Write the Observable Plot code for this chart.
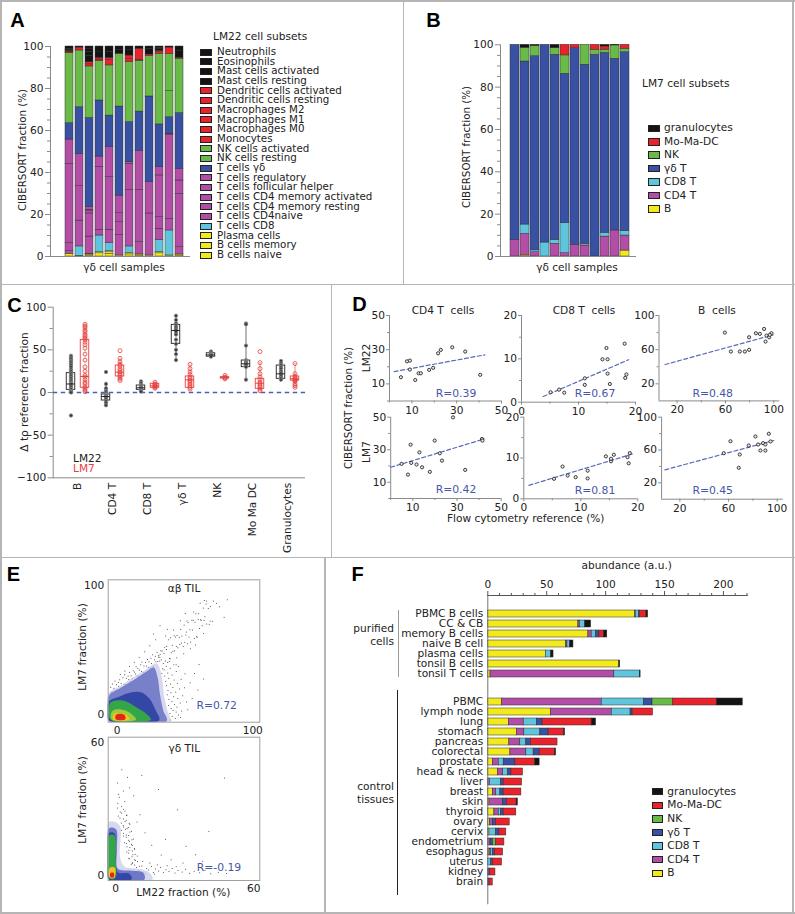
<!DOCTYPE html>
<html><head><meta charset="utf-8">
<script src="https://cdn.jsdelivr.net/npm/d3@7"></script>
<script src="https://cdn.jsdelivr.net/npm/@observablehq/plot@0.6"></script>
<style>
html,body{margin:0;padding:0;background:#fff;overflow:hidden}
#page{position:relative;width:795px;height:914px;font-family:"DejaVu Sans",sans-serif;color:#222;background:#fff}
#page svg{position:absolute;left:0;top:0;background:transparent;overflow:visible}
.t{position:absolute;white-space:pre;line-height:0.9;font-size:10.6px}
.ln{position:absolute}
.sw{position:absolute;box-sizing:border-box;border:1px solid #222}
</style></head><body><div id="page"></div>
<script>
// ================= DATA =================
// Panel A: LM22 fractions (%) for 12 γδ cell samples
const aSamples = ["1","2","3","4","5","6","7","8","9","10","11","12"];
const aBNaive    = [1.3,0.3,0.5,1.5,1.2,0.5,1,0.5,0.5,1.5,0.5,0.5];
const aBMemory   = [0,0,0.5,0.6,0.8,0,0.6,0.5,0,0.6,0,0.5];
const aPlasma    = [0,0,0.3,0,0.5,0,0,0,0,0,0,0];
const aCD8       = [0,4.5,0,7.9,3.8,0,3.2,0,0,5.8,11.9,0];
const aCD4Naive  = [1.2,12.3,8.2,0,6.4,9.8,26.9,5.8,20,5.3,5.5,3.4];
const aCD4MemRest= [3.8,16.4,11,2.7,25.1,6,12.4,24.9,14.9,5.5,40.2,25.4];
const aCD4MemAct = [37.8,15.4,1.2,30,14.3,4.3,0.8,18.5,0,19.9,0.3,6.4];
const aTfh       = [0,0,0.6,0,0,0,0,0,0,0,0,0];
const aTreg      = [11.6,0,1.2,4.9,0,8.4,0,0,0,3.9,0,5.5];
const aGD        = [7.8,22.2,42.5,26.7,15,42.4,19.1,18.8,40.8,20.4,7.9,26.6];
const aNKRest    = [0,0,0,0,0,0,0,0,0,0,12.4,0];
const aNKAct     = [33.3,27,24.5,18.7,23.9,25.1,28.5,24.2,19.3,33.6,17.8,25.9];
const aMono      = [0,0,0,0,0,0,0,0,0,0,0,0];
const aM0        = [0.4,0,0,0,0,0,0,0.5,0,0,0,0];
const aM1        = [0,0,0,0,0,0,0,0,0,0,0,0];
const aM2        = [0.4,0,1,0.8,2.5,0,1.6,0,0,0.8,0,0];
const aDCRest    = [0,1.4,1,0.8,1,0,1.6,5.2,0.7,0.7,3,0.5];
const aDCAct     = [0.4,0,0,0,0,0,0,0,0,0,0,0];
const aMastRest  = [0.5,0,3,3,3,2,2.5,0,2.5,0,0,3];
const aMastAct   = [0,0,2,0,0,0,0,0,0,0.7,0,0];
const aEos       = [0.3,0,1.5,0,0,0,0,0,0,0.6,0,0];
const aNeut      = [1.2,0.5,1,2.4,2.5,1.5,1.8,1.1,1.3,0.7,0.5,2.3];
const aTicks = [0,20,40,60,80,100];

// Panel B: LM7 fractions (%)
const bB    = [0,0.5,0,0,0,0,0,0,0,0,0,2.8];
const bCD4  = [7.8,10.2,2.0,0,6,1.6,5.5,5.2,0,9.4,12.3,7.1];
const bCD8  = [0,4.4,0.9,6.6,1.9,14.1,0,0.8,0,1.8,0,2.1];
const bGD   = [92.2,77,91.7,93.4,87.4,70.6,92.9,84.6,95.3,85,81.1,84.5];
const bNK   = [0,6.5,4.8,0,3.1,8.7,0,9.4,2.3,1.5,6.3,1.6];
const bMo   = [0,0,0,0,0,5.0,1.6,0,2.4,1.5,0,1.9];
const bGran = [0,1.4,0.6,0,1.6,0,0,0,0,0.8,0.3,0];

// Panel C: Δ to reference fraction
const cCategories = ["B","CD4 T","CD8 T","γδ T","NK","Mo Ma DC","Granulocytes"];
const cTicks = [-100,-50,0,50,100];
const lm22Pts = [
  [43,41,39,37,36,34,32,30,27,25,23,21,19,17,15,13,11,10,8,6,4,2,1,0,-27],
  [24,10,5,2,0,-2,-3,-4,-5,-6,-8,-10,-12,-15],
  [13,11,9,8,7,6,5,4,3,2,1],
  [90,85,81,79,77,75,73,71,68,62,57,50,45,38],
  [48,46,45,44,44,43,42],
  [81,80,55,38,37,36,35,34,33,32,30,15],
  [37,34,32,30,28,25,23,21,19,17,15]
];
const lm22Q1  = [3.1,-9.4,3.1,57,42,29.7,16];
const lm22Med = [10,-4.7,5.5,72.7,44,33.6,21.9];
const lm22Q3  = [22.7,-2.3,8.2,79.3,46,37.5,31.6];
const lm22Lo  = [0,-15,1,38,42,15,15];
const lm22Hi  = [43,12,13,90,48,81,37];
const lm7Pts = [
  [80,78,76,73,71,68,66,64,62,59,56,52,45,38,30,25,20,18,15,12,10,7,5,3,1],
  [49,40,36,33,31,28,26,24,22,20,18,16,14],
  [12,10,9,8,7,6,5],
  [33,28,24,21,18,16,14,12,10,8,6,4],
  [20,18,17,16],
  [48,35,28,22,18,15,12,10,8,6,4,2],
  [34,22,19,17,16,15,14,13,10,8,6]
];
const lm7Q1  = [5.5,18.8,5.5,5.5,16.5,4.3,14];
const lm7Med = [18.8,23.8,7.8,14.8,17.2,10.9,16];
const lm7Q3  = [61.7,31.6,10.2,18.8,18,16,18.8];
const lm7Lo  = [1,14,5,4,16,2,6];
const lm7Hi  = [80,40,12,33,20,35,34];

// Panel D: CIBERSORT vs flow cytometry (x = flow %, y = CIBERSORT %)
const dCD4LM22 = [[5.1,13.9],[7.8,23.2],[9.1,23.6],[9.1,18.4],[11.5,12.3],[13,16.2],[14,16.2],[17.7,18.2],[19.5,19.4],[21.7,27.9],[22.9,29.9],[28,31.4],[33.8,28.9],[40.5,15.3]];
const dCD4LM22Fit = [[2.1,17.2],[42.6,27]];
const dCD8LM22 = [[5.1,2.3],[6.6,2.9],[7.5,2.2],[11.1,5.5],[11.1,4.0],[14.2,9.9],[15.1,9.9],[14.9,12.5],[15.1,6.6],[15.5,4.2],[18.1,13.5],[18.2,5.6],[18.4,6.4]];
const dCD8LM22Fit = [[3.8,1.3],[18.8,9.8]];
const dBLM22 = [[59.5,80],[64.5,57.8],[71.9,57.8],[76.1,57.8],[79.6,59.8],[79.6,74.5],[85.2,79.2],[88.5,78.5],[92,84.3],[93.2,69.5],[94,76.5],[96.2,74.5],[98.1,79.2],[96.7,77.3]];
const dBLM22Fit = [[10,42.6],[99.5,77.3]];
const dCD4LM7 = [[4.9,21.3],[7.8,14.7],[9,33.1],[9.3,21.9],[11.7,20.9],[13,28.4],[14.2,19.2],[17.7,16.4],[19.9,35.6],[22.2,27.8],[23.2,23.3],[28.2,49.9],[33.7,17.6],[41.3,36.6],[41.5,35.6]];
const dCD4LM7Fit = [[0,19.2],[42.3,36.6]];
const dCD8LM7 = [[5.3,4.9],[6.8,7.9],[7.7,5.7],[9.1,5.3],[11.2,6.9],[11.2,5.0],[14.4,10.4],[15.3,9.2],[15.3,9.8],[15.8,10.8],[18.2,10.2],[18.4,8.7],[18.6,11.2]];
const dCD8LM7Fit = [[0.9,3.3],[19.1,11]];
const dBLM7 = [[56.1,56.1],[61.6,70.7],[68.4,38.3],[69.2,54.5],[76.6,65.5],[82.1,76.5],[84.3,66.7],[86.2,59.4],[88.4,68.3],[90.3,59.4],[90.3,66.7],[93.1,79.8],[94.5,70.4]];
const dBLM7Fit = [[7.7,35.8],[97.2,71.6]];

// Panel E: LM7 vs LM22 fraction (%) in TIL — scatter points and density levels
const eAbPoints = [
[-5.2,12.3],[-4.7,21.1],[-4.3,17.1],[-3.5,23.7],[-3.1,15.3],[-2.4,20.4],[-1.6,25.9],[-1.3,18.0],[-0.5,23.0],[0.1,17.2],[0.9,25.0],[1.2,21.8],[1.9,27.0],[2.7,20.4],[3.0,24.0],[3.8,19.4],[4.2,28.4],[5.1,23.5],[5.5,30.8],[6.3,23.3],[6.8,28.0],[7.2,22.2],[8.1,29.9],[8.6,27.1],[9.0,32.8],[9.9,25.4],[10.3,30.1],[11.0,27.6],[11.8,33.8],[12.1,25.5],[12.9,32.9],[13.6,31.4],[14.0,36.9],[14.8,29.9],[15.3,35.6],[16.1,29.5],[16.5,34.4],[17.4,38.5],[17.9,33.4],[18.3,40.6],[19.2,32.6],[19.8,37.5],[20.5,32.0],[21.0,40.2],[21.6,37.6],[22.4,42.6],[23.0,36.4],[23.5,40.9],[24.3,36.0],[24.9,43.5],[25.4,39.6],[26.2,46.3],[26.7,37.2],[27.5,42.5],[28.1,45.1],[28.6,40.9],[29.4,48.2],[30.0,41.0],[30.7,45.8],[31.5,44.3],[32.2,49.3],
[39.5,-4.2],[42.8,-3.1],[40.6,-1.5],[45.2,-0.4],[38.9,0.8],[43.5,1.9],[41.2,3.2],[47.6,2.7],[39.8,4.6],[44.1,5.8],[37.9,6.9],[42.3,7.7],[46.5,8.9],[40.4,10.1],[38.2,11.6],[44.7,12.4],[41.6,13.8],[36.9,15.2],[48.3,14.6],[39.7,16.9],[43.2,17.5],[37.5,18.8],[45.9,19.7],[41.1,20.9],[36.4,22.3],[39.3,23.6],[44.4,24.2],[35.8,25.7],[42.0,26.8],[38.1,28.1],[47.2,27.3],[35.1,29.9],[40.5,30.6],[37.3,32.2],[43.6,33.4],[34.6,34.7],[39.1,35.9],[36.2,37.4],[41.8,38.5],[34.0,39.6],[45.1,37.1],[38.4,41.2],[49.7,20.8],[51.2,9.6],[50.1,31.5],
[30.5,44.5],[31.4,41.4],[31.7,46.7],[32.5,42.5],[33.2,49.2],[33.5,35.5],[34.5,47.5],[35.1,52.1],[35.5,41.5],[36.4,50.4],[36.6,52.6],[37.3,40.3],[38.0,58.0],[39.1,43.1],[39.4,59.4],[39.9,47.9],[40.7,53.7],[41.1,49.1],[42.0,61.0],[42.4,49.4],[43.0,60.0],[43.9,52.9],[44.2,61.2],[44.8,51.8],[45.8,59.8],[46.2,54.2],[46.9,65.9],[47.4,55.4],[47.8,60.8],[48.7,52.7],[49.4,69.4],[49.9,55.9],[50.7,61.7],[51.0,64.0],[51.9,54.9],[52.3,71.3],[53.0,60.0],[53.7,65.7],[54.2,56.2],[55.1,73.1],[55.5,65.5],[56.1,73.1],[56.9,58.9],[57.4,71.4],[58.1,78.1],[58.7,60.7],[59.7,73.7],[60.1,78.1],[60.7,66.7],[61.5,73.5],[62.0,73.0],[62.7,68.7],[63.6,82.6],[64.1,73.1],[64.7,75.7],[65.6,85.6],[66.1,70.1],[67.2,82.2],[67.9,69.9],[68.7,83.7],
[33.0,32.0],[35.8,60.8],[38.6,43.6],[41.5,65.5],[44.0,44.0],[46.6,72.6],[49.1,47.1],[51.5,72.5],[54.0,51.0],[56.5,79.5],[58.9,59.9],[61.2,86.2],[63.8,62.8],[66.0,88.0],[68.5,72.5],[71.0,88.0],[73.2,86.2],[75.6,83.6],[37.0,66.0],[43.5,38.5],[50.2,78.2],[57.8,53.8],[64.3,88.3],[70.2,72.2],
[28.4,57.9],[24.1,53.2],[20.3,48.7],[16.2,44.1],[12.6,40.5],[9.1,37.3],[5.7,33.6],[2.3,30.9],
[53.8,24.6],[57.1,31.8],[60.4,38.7],[55.3,12.3],[59.6,18.9],[52.1,3.7],[46.8,-2.4],[63.8,27.5],[78.9,75.4],[81.2,88.9],[31.6,68.8],[26.9,62.4]
];
const eAbLevels = [
  [[-6,-5.5],[39,-5.5],[37,3],[34.5,15],[33,29],[29.5,39.5],[26,38.5],[22,35.5],[12,29],[3,22.5],[-6,16.5]],
  [[-6,-5],[36.5,-5],[34,3],[31.5,16],[30,28],[27,36.5],[22,33.5],[12.5,27],[2.7,20.7],[-6,14.5]],
  [[-6,-4.5],[31,-4.5],[28,4],[24,12],[18,17],[10,17],[2,14],[-6,10]],
  [[-5,-4],[25,-4],[21,1],[15,5],[8,9.5],[2,11],[-5,9]],
  [[-4,-4],[14,-4],[11,0],[6,3],[0,4],[-4,2]],
  [[-3,-4],[9,-4],[7,-0.5],[3,1],[-2,0.5]],
  [[-1,-3.8],[6,-3.8],[5.5,-0.5],[2,0.5],[-1,-0.5]]
];
const eGdPoints = [
[2.6,31.2],[0.8,30.4],[4.1,29.1],[2.0,28.6],[4.9,27.3],[1.2,26.8],[3.4,25.5],[4.6,24.9],[2.5,23.7],[6.2,23.1],[3.5,21.9],[5.0,21.2],[2.6,20.4],[6.2,19.6],[4.6,18.3],[3.5,17.8],[7.7,16.5],[5.7,15.9],[3.9,14.7],[6.9,14.1],[5.0,12.9],[8.2,12.2],[5.8,11.4],[4.9,10.6],[7.5,9.3],[9.4,8.8],[5.9,7.5],[8.6,6.9],[7.4,5.8],[6.8,5.1],
[1.0,32.5],[3.4,29.8],[2.6,28.2],[4.8,27.0],[1.9,25.9],[4.1,24.3],[5.9,23.4],[3.3,22.5],[5.5,21.6],[4.2,20.8],[6.9,19.9],[3.5,19.0],[5.7,18.0],[4.6,17.2],[7.1,16.1],[6.0,15.3],[4.7,14.4],[7.2,13.5],[6.2,12.6],[8.3,11.8],[7.3,11.0],[5.7,10.1],[8.5,9.6],[7.1,8.4],[5.8,7.8],[8.3,7.1],[9.5,6.3],[7.2,5.5],[8.3,4.7],[10.3,4.2],
[9.1,3.6],[10.2,2.1],[11.4,4.3],[12.3,1.6],[13.5,3.2],[14.2,2.5],[15.6,4.1],[16.4,1.3],[17.3,2.9],[18.7,2.0],[19.5,3.7],[20.8,1.5],[21.9,2.6],[23.2,1.9],[24.6,3.1],[25.8,1.1],[27.1,2.2],[28.9,1.6],[30.4,2.8],[32.2,1.0],[34.1,1.9],[36.5,1.2],[38.8,2.3],[41.3,0.8],[44.6,1.5],[48.2,0.9],[11.8,6.3],[14.9,5.6],[18.1,4.8],[22.4,4.4],[26.3,3.9],[9.8,1.2],[13.1,0.8],[16.9,0.7],
[1.6,35.2],[3.4,38.1],[0.9,41.7],[5.2,44.3],[2.7,47.6],[7.9,35.9],[10.6,27.4],[12.8,19.3],[15.7,13.6],[19.8,9.2],[24.1,7.1],[29.3,5.6],[6.1,39.5],[4.0,33.3],[9.3,24.1],[1.2,36.6],
[18.6,38.7],[26.9,29.6],[40.5,19.8],[47.3,43.9],[34.7,9.4],[53.9,2.8],[11.4,45.2],[21.7,16.3],[37.8,6.4],[30.6,13.2]
];
const eGdLevels = [
  [[-3,-2],[16,-2],[15,1],[10,3],[4,4],[2,8],[2,22],[0,24],[-3,24]],
  [[-3,-1.8],[12.5,-1.8],[12,1.2],[6,2.2],[1,3],[0.6,12],[0.4,20.5],[-1,21.5],[-3,21]],
  [[-3,-1.6],[7,-1.6],[6,0.8],[1,1.5],[0,10],[-0.5,19],[-3,19]],
  [[-2.8,-1.2],[-0.2,-1.2],[0,8],[-0.5,18],[-2.8,18]],
  [[-2.5,-1],[-0.5,-1],[-0.3,3.5],[-2.5,3.5]],
  [[-2.2,-0.8],[-0.8,-0.8],[-0.8,1.2],[-2.2,1.2]]
];

// Panel F: abundance (a.u.) per sample type
const fTissues = ["PBMC B cells","CC & CB","memory B cells","naive B cell","plasma cells","tonsil B cells","tonsil T cells",
  "PBMC","lymph node","lung","stomach","pancreas","colorectal","prostate","head & neck","liver","breast","skin","thyroid","ovary","cervix","endometrium","esophagus","uterus","kidney","brain"];
const fB    = [125.1,76.9,85.4,66.5,49.3,111.6,2.3, 12.2,53.6,17.8,24.8,18.3,19.2,4.2,8.5,0,4.2,1.4,5.6,1.7,1.4,0,1.4,0,0,0];
const fCD4  = [0.5,1.4,2.8,1.1,0,0,105.1, 84.5,51.6,12.7,6.2,9.3,13.5,5.1,4.5,1.7,2.9,11.6,3.7,2.5,0,2.3,1.4,0,0,0];
const fCD8  = [2.6,4.3,3.7,2.3,4.5,0,21.7, 35.8,16,11.3,13.6,5.1,6.2,4.2,4.2,9.6,3.6,0,2,0,5.6,0,1.4,2.8,0,0];
const fGD   = [0.8,0,2.8,0,0,0,0, 7.3,1.7,4.7,7,4,5.1,9.9,2.8,2.2,2.8,3.1,2.2,2.8,2.8,2.2,1.7,1.4,1.7,1.4];
const fNK   = [0,0,0,0,0,0,0, 17.4,0,0,0,0,0,0,0,0,0,0,0,0,0,2.5,0,0,0,0];
const fMo   = [5.7,0,3.9,0,0,0,0, 37.2,17.4,41.7,13.2,22.5,13.2,16.9,9.9,15.6,15,8.4,10.7,11.6,5.9,7.1,7.1,7.9,4.8,2.8];
const fGran = [1.4,5.1,2.8,2.8,2.0,0.8,0.6, 22.0,0,3.7,0.8,0,0.8,3.7,0,0,0,1.1,0,0,0,0,0,0,0,0];
const fTicks = [0,50,100,150,200];

// ================= STYLE =================
const cBlack="#141414", cRed="#e8232b", cGreen="#69ba48", cBlue="#3851a3", cCyan="#60c5dc", cPurple="#b24ea6", cYellow="#f2ea1d";
const axisGray="#8a8a8a", rBlue="#4657a7", lm7Red="#e6403f";
const page = document.getElementById("page");

function addText(s, x, y, o = {}) {
  const d = document.createElement("div");
  d.className = "t"; d.textContent = s;
  d.style.left = x + "px"; d.style.top = y + "px";
  if (o.size) d.style.fontSize = o.size + "px";
  if (o.color) d.style.color = o.color;
  if (o.weight) d.style.fontWeight = o.weight;
  if (o.family) d.style.fontFamily = o.family;
  const tx = o.anchor === "start" ? "0" : o.anchor === "end" ? "-100%" : "-50%";
  d.style.transform = `translate(${tx},-50%)` + (o.rot ? ` rotate(${o.rot}deg)` : "");
  page.appendChild(d);
}
function addLine(x, y, w, h, color) {
  const d = document.createElement("div");
  d.className = "ln";
  Object.assign(d.style, {left: x+"px", top: y+"px", width: w+"px", height: h+"px", background: color});
  page.appendChild(d);
}
function addSwatch(x, y, w, h, color) {
  const d = document.createElement("div");
  d.className = "sw";
  Object.assign(d.style, {left: x+"px", top: (y - h/2)+"px", width: w+"px", height: h+"px", background: color});
  page.appendChild(d);
}
function mk(L, R, T, B, opts) {
  const svg = Plot.plot({
    width: 795, height: 914,
    marginLeft: L, marginRight: 795 - R, marginTop: T, marginBottom: 914 - B,
    style: {background: "transparent", fontFamily: "DejaVu Sans", fontSize: "10.6px", color: "#222", overflow: "visible", position: "absolute", left: "0px", top: "0px"},
    ...opts
  });
  page.appendChild(svg);
}
const noText = () => "";
const boldFont = {size: 20, weight: "bold", family: "Liberation Sans, Arial, sans-serif", color: "#000"};

// ================= PANEL BORDERS =================
const bc = "#b5b5b5";
addLine(0,0,795,1.5,bc); addLine(0,0,1.5,914,bc); addLine(792,0,1.5,914,bc); addLine(0,912,795,1.5,bc);
addLine(0,283.5,795,1.5,bc); addLine(0,556.5,795,1.5,bc);
addLine(402.5,0,1.5,284,bc); addLine(330.5,284,1.5,273,bc); addLine(324,557,1.5,356,bc);

// ================= PANEL A =================
const aStack = [
 ["B cells naive", aBNaive, cYellow], ["B cells memory", aBMemory, cYellow], ["Plasma cells", aPlasma, cYellow],
 ["T cells CD8", aCD8, cCyan], ["T cells CD4naive", aCD4Naive, cPurple], ["T cells CD4 memory resting", aCD4MemRest, cPurple],
 ["T cells CD4 memory activated", aCD4MemAct, cPurple], ["T cells follicular helper", aTfh, cPurple], ["T cells regulatory", aTreg, cPurple],
 ["T cells γδ", aGD, cBlue], ["NK cells resting", aNKRest, cGreen], ["NK cells activated", aNKAct, cGreen],
 ["Monocytes", aMono, cRed], ["Macrophages M0", aM0, cRed], ["Macrophages M1", aM1, cRed], ["Macrophages M2", aM2, cRed],
 ["Dendritic cells resting", aDCRest, cRed], ["Dendritic cells activated", aDCAct, cRed],
 ["Mast cells resting", aMastRest, cBlack], ["Mast cells activated", aMastAct, cBlack], ["Eosinophils", aEos, cBlack], ["Neutrophils", aNeut, cBlack]
];
const aData = [];
aStack.forEach(([name, vals, color]) => vals.forEach((v, i) => { if (v > 0) aData.push({sample: aSamples[i], subset: name, value: v, color}); }));
const minor5 = d3.range(0, 101, 5).filter(d => d % 20);
mk(50, 190, 46, 256, {
  x: {type: "band", domain: aSamples, range: [61, 188], paddingInner: 0.16, paddingOuter: 0, axis: null},
  y: {domain: [0, 100]},
  marks: [
    Plot.barY(aData, {x: "sample", y: "value", fill: "color", stroke: "#2a2a2a", strokeWidth: 0.45}),
    Plot.ruleY([0], {stroke: axisGray}),
    Plot.frame({anchor: "left", stroke: axisGray}),
    Plot.axisY({ticks: aTicks, tickSize: 5, tickPadding: 2, label: null, stroke: axisGray}),
    Plot.axisY({ticks: minor5, tickSize: 3, tickFormat: noText, label: null, stroke: axisGray})
  ]
});
addText("A", 17.5, 20, boldFont);
addText("CIBERSORT fraction (%)", 23, 150, {rot: -90, size: 10.3});
addText("γδ cell samples", 124, 268, {size: 10.6});
addText("LM22 cell subsets", 213, 37, {anchor: "start"});
aStack.slice().reverse().forEach(([name, , color], i) => {
  const y = 52 + i * 9.67;
  addSwatch(200, y, 11.5, 7, color);
  addText(name, 217, y, {anchor: "start", size: 10.3});
});

// ================= PANEL B =================
const bStack = [["B", bB, cYellow], ["CD4 T", bCD4, cPurple], ["CD8 T", bCD8, cCyan], ["γδ T", bGD, cBlue], ["NK", bNK, cGreen], ["Mo-Ma-DC", bMo, cRed], ["granulocytes", bGran, cBlack]];
const bData = [];
bStack.forEach(([name, vals, color]) => vals.forEach((v, i) => { if (v > 0) bData.push({sample: aSamples[i], subset: name, value: v, color}); }));
mk(500, 636, 44.3, 256, {
  x: {type: "band", domain: aSamples, range: [506, 633], paddingInner: 0.12, paddingOuter: 0, axis: null},
  y: {domain: [0, 100]},
  marks: [
    Plot.barY(bData, {x: "sample", y: "value", fill: "color", stroke: "#2a2a2a", strokeWidth: 0.45}),
    Plot.ruleY([0], {stroke: axisGray}),
    Plot.frame({anchor: "left", stroke: axisGray}),
    Plot.axisY({ticks: aTicks, tickSize: 5, tickPadding: 2, label: null, stroke: axisGray}),
    Plot.axisY({ticks: minor5, tickSize: 3, tickFormat: noText, label: null, stroke: axisGray})
  ]
});
addText("B", 433.5, 20, boldFont);
addText("CIBERSORT fraction (%)", 467, 147, {rot: -90, size: 10.3});
addText("γδ cell samples", 577, 268, {size: 10.6});
addText("LM7 cell subsets", 642, 84, {anchor: "start"});
bStack.slice().reverse().forEach(([name, , color], i) => {
  const y = 128.3 + i * 13.45;
  addSwatch(648, y, 12, 7.5, color);
  addText(name, 664, y, {anchor: "start"});
});

// ================= PANEL C =================
const cGroups = [], cPoints = [];
cCategories.forEach((cat, i) => {
  cGroups.push({cat, method: "LM22", q1: lm22Q1[i], med: lm22Med[i], q3: lm22Q3[i], lo: lm22Lo[i], hi: lm22Hi[i]});
  cGroups.push({cat, method: "LM7", q1: lm7Q1[i], med: lm7Med[i], q3: lm7Q3[i], lo: lm7Lo[i], hi: lm7Hi[i]});
  lm22Pts[i].forEach(v => cPoints.push({cat, method: "LM22", v}));
  lm7Pts[i].forEach(v => cPoints.push({cat, method: "LM7", v}));
});
const cMarks = [
  Plot.ruleY([-100], {stroke: axisGray}),
  Plot.frame({anchor: "left", stroke: axisGray}),
  Plot.axisY({ticks: cTicks, tickSize: 5, tickPadding: 2, label: null, stroke: axisGray}),
  Plot.axisY({ticks: [-75,-25,25,75], tickSize: 3, tickFormat: noText, label: null, stroke: axisGray}),
  Plot.axisX({tickRotate: -90, tickSize: 0, tickPadding: 5, label: null}),
  Plot.ruleY([0], {stroke: "#4b5db4", strokeDasharray: "4.5,3.5", strokeWidth: 1.4})
];
[["LM22", -7, "#222", "#3a3a3a", "#888"], ["LM7", 7, lm7Red, "none", lm7Red]].forEach(([m, dx, col, dotFill, dotStroke]) => {
  const g = cGroups.filter(d => d.method === m), p = cPoints.filter(d => d.method === m);
  const insL = m === "LM22" ? 6.25 : 20.25, insR = 26.5 - insL;
  cMarks.push(
    Plot.ruleX(g, {x: "cat", y1: "lo", y2: "hi", dx, stroke: col, strokeWidth: 0.8, strokeOpacity: 0.8}),
    Plot.barY(g, {x: "cat", y1: "q1", y2: "q3", insetLeft: insL, insetRight: insR, fill: "white", fillOpacity: 0.6, stroke: col, strokeWidth: 0.9}),
    Plot.dot(p, {x: "cat", y: "v", dx, r: m === "LM22" ? 1.7 : 2, fill: dotFill, stroke: dotStroke, strokeWidth: 0.8}),
    Plot.tickY(g, {x: "cat", y: "med", insetLeft: insL, insetRight: insR, stroke: col, strokeWidth: 1})
  );
});
mk(52.7, 305, 306.7, 477.3, {
  x: {type: "band", domain: cCategories, range: [57.75, 306.25], padding: 0},
  y: {domain: [-100, 100]},
  marks: cMarks
});
addText("C", 14.5, 304.5, boldFont);
addText("Δ to reference fraction", 25, 392, {rot: -90, size: 10.6});
addText("LM22", 73, 458.5, {anchor: "start"});
addText("LM7", 73, 469, {anchor: "start", color: lm7Red});

// ================= PANEL D =================
function scatter(L, R, T, B, xdom, ydom, xt, xm, yt, ym, pts, fit) {
  mk(L, R, T, B, {
    x: {domain: xdom}, y: {domain: ydom},
    marks: [
      Plot.ruleX([xdom[0]], {stroke: axisGray}),
      Plot.ruleY([ydom[0]], {stroke: axisGray}),
      Plot.axisX({ticks: xt, tickSize: 3, tickPadding: 2, label: null, stroke: axisGray}),
      Plot.axisX({ticks: xm, tickSize: 2, tickFormat: noText, label: null, stroke: axisGray}),
      Plot.axisY({ticks: yt, tickSize: 3, tickPadding: 1.5, label: null, stroke: axisGray}),
      Plot.axisY({ticks: ym, tickSize: 2, tickFormat: noText, label: null, stroke: axisGray}),
      Plot.line(fit, {x: d => d[0], y: d => d[1], stroke: "#5a69b8", strokeWidth: 1.2, strokeDasharray: "4,2.5"}),
      Plot.dot(pts, {x: d => d[0], y: d => d[1], r: 1.6, stroke: "#2a2a2a", strokeWidth: 0.9, fill: "#e8e8e8"})
    ]
  });
}
scatter(389, 501, 315, 400.5, [0,50], [0,50], [10,30,50], [0,20,40], [10,30,50], [0,20,40], dCD4LM22, dCD4LM22Fit);
scatter(521, 635, 315, 401.7, [0,20], [0,20], [0,10,20], [5,15], [0,10,20], [5,15], dCD8LM22, dCD8LM22Fit);
scatter(658.5, 779.3, 315, 400.4, [5,105], [0,100], [20,60,100], [40,80], [20,60,100], [40,80], dBLM22, dBLM22Fit);
scatter(390.2, 500.7, 416.7, 498, [0,50], [0,50], [10,30,50], [0,20,40], [10,30,50], [0,20,40], dCD4LM7, dCD4LM7Fit);
scatter(523.3, 637.3, 416.7, 498.3, [0,20], [0,20], [0,10,20], [5,15], [0,10,20], [5,15], dCD8LM7, dCD8LM7Fit);
scatter(661.1, 782.8, 416.7, 498.7, [5,105], [0,100], [20,60,100], [40,80], [20,60,100], [40,80], dBLM7, dBLM7Fit);
addText("D", 359.5, 303.5, boldFont);
addText("CD4 T  cells", 443, 311);
addText("CD8 T  cells", 584, 311);
addText("B  cells", 717, 311);
[["R=0.39",456,394],["R=0.67",595,394],["R=0.48",712.7,394],["R=0.42",456,489.5],["R=0.81",595,491],["R=0.45",712.7,491]]
  .forEach(([s,x,y]) => addText(s, x, y, {color: rBlue, size: 10.8}));
addText("CIBERSORT fraction (%)", 349, 408, {rot: -90, size: 10.3});
addText("LM22", 366.7, 358, {rot: -90});
addText("LM7", 366.7, 451.7, {rot: -90});
addText("Flow cytometry reference (%)", 525.7, 519);

// ================= PANEL E =================
const eColorsAb = ["#c6c7ea", "#7780c9", "#3446a6", "#34a64a", "#9ccb3a", "#f3c41e", "#e2261c"];
const eColorsGd = ["#c6c7ea", "#6f78c6", "#3446a6", "#34a64a", "#f3c41e", "#e2261c"];
function density(L, R, T, B, xdom, ydom, ticks, pts, levels, colors) {
  mk(L, R, T, B, {
    x: {domain: xdom}, y: {domain: ydom},
    marks: [
      Plot.dot(pts, {x: d => d[0], y: d => d[1], r: 0.5, fill: "#2a2a2a", stroke: "none"}),
      ...levels.map((poly, i) => Plot.line(poly, {x: d => d[0], y: d => d[1], fill: colors[i], fillOpacity: i === 0 ? 0.7 : 1, stroke: "none", curve: "catmull-rom-closed", clip: true})),
      Plot.frame({stroke: "#a0a0a0"}),
      Plot.axisX({ticks, tickSize: 0, tickPadding: 4, label: null}),
      Plot.axisY({ticks, tickSize: 0, tickPadding: 4, label: null})
    ]
  });
}
density(107.7, 259.3, 579.3, 721.7, [-6.6,105.2], [-6,104.4], [0,100], eAbPoints, eAbLevels, eColorsAb);
density(107.7, 259.3, 736.7, 880, [-3.2,62.6], [-2.25,62.3], [0,60], eGdPoints, eGdLevels, eColorsGd);
addText("E", 13.5, 574, boldFont);
addText("αβ TIL", 184, 588.5);
addText("γδ TIL", 184.3, 749.3);
addText("R=0.72", 216.7, 705.7, {color: rBlue, size: 10.8});
addText("R=-0.19", 219, 868.3, {color: rBlue, size: 10.8});
addText("LM7 fraction (%)", 82.7, 646.7, {rot: -90});
addText("LM7 fraction (%)", 82.7, 800, {rot: -90});
addText("LM22 fraction (%)", 183.3, 893.3);

// ================= PANEL F =================
const fTypes = [["B", fB, cYellow], ["CD4 T", fCD4, cPurple], ["CD8 T", fCD8, cCyan], ["γδ T", fGD, cBlue], ["NK", fNK, cGreen], ["Mo-Ma-DC", fMo, cRed], ["granulocytes", fGran, cBlack]];
const fRows = [];
fTissues.forEach((tissue, i) => fTypes.forEach(([type, vals, color]) => { if (vals[i] > 0) fRows.push({tissue, type, value: vals[i], color}); }));
const fTop = fTissues.slice(0, 7), fBottom = fTissues.slice(7);
const fMinor = d3.range(0, 221, 10).filter(d => d % 50);
mk(487.3, 746.5, 595, 687.5, {
  x: {domain: [0, 220]},
  y: {type: "band", domain: fTop, range: [608.07, 679.37], paddingInner: 0.32, paddingOuter: 0},
  marks: [
    Plot.barX(fRows.filter(d => fTop.includes(d.tissue)), {y: "tissue", x: "value", fill: "color", stroke: "#2a2a2a", strokeWidth: 0.5}),
    Plot.frame({anchor: "top", stroke: "#555"}),
    Plot.frame({anchor: "left", stroke: "#777"}),
    Plot.axisX({anchor: "top", ticks: fTicks, tickSize: 5, tickPadding: 3, label: null, stroke: "#555"}),
    Plot.axisX({anchor: "top", ticks: fMinor, tickSize: 3, tickFormat: noText, label: null, stroke: "#555"}),
    Plot.axisY({tickSize: 0, tickPadding: 4.6, label: null})
  ]
});
mk(487.3, 746.5, 687.5, 903.3, {
  x: {domain: [0, 220], axis: null},
  y: {type: "band", domain: fBottom, range: [689.16, 894.5], paddingInner: 0.3, paddingOuter: 0},
  marks: [
    Plot.barX(fRows.filter(d => fBottom.includes(d.tissue)), {y: "tissue", x: "value", fill: "color", stroke: "#2a2a2a", strokeWidth: 0.5}),
    Plot.frame({anchor: "left", stroke: "#777"}),
    Plot.axisY({tickSize: 0, tickPadding: 4.6, label: null})
  ]
});
addText("F", 357.5, 573.5, boldFont);
addText("abundance (a.u.)", 626.7, 565.7);
addText("purified", 394, 629.3, {anchor: "end"});
addText("cells", 394, 641.7, {anchor: "end"});
addText("control", 394, 787.3, {anchor: "end"});
addText("tissues", 394, 800.3, {anchor: "end"});
addLine(397.8, 610, 1, 67, "#9a9a9a");
addLine(397.3, 690, 1.2, 205, "#222");
fTypes.slice().reverse().forEach(([name, , color], i) => {
  const y = 791.7 + i * 13.6;
  addSwatch(651.7, y, 11.6, 7.5, color);
  addText(name, 667.3, y, {anchor: "start"});
});
</script></body></html>
